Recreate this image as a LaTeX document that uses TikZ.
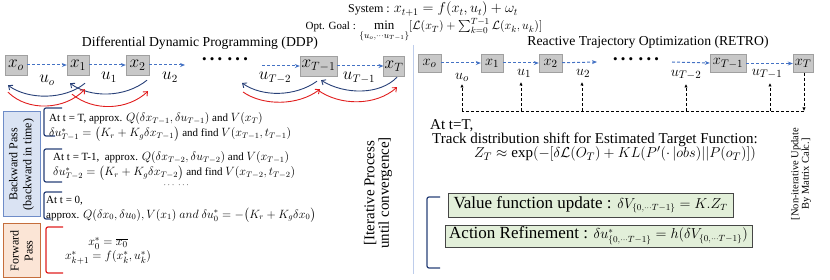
\documentclass[tikz,border=0pt]{standalone}
\usepackage{amsmath}
\usepackage{fontspec}
\setmainfont{Liberation Serif}
\usetikzlibrary{arrows.meta}
\definecolor{dblue}{RGB}{68,114,196}
\definecolor{navy}{RGB}{40,64,120}
\definecolor{arcred}{RGB}{225,30,30}
\definecolor{sgray}{RGB}{200,200,200}
\definecolor{sgrayd}{RGB}{160,160,160}
\definecolor{bpfill}{RGB}{218,227,243}
\definecolor{bpdraw}{RGB}{110,140,200}
\definecolor{fpfill}{RGB}{251,229,214}
\definecolor{fpdraw}{RGB}{197,110,60}
\definecolor{gfill}{RGB}{226,239,217}
\definecolor{gdraw}{RGB}{70,70,70}
\definecolor{divider}{RGB}{190,205,235}
\newcommand{\mathbody}[1]{{\fontsize{12}{15}\selectfont$#1$}}
\newcommand{\mathhead}[1]{{\fontsize{14}{14}\selectfont$#1$}}
\newcommand{\mathgoal}[1]{{\fontsize{13}{13}\selectfont$#1$}}
\newcommand{\mathgreen}[1]{{\fontsize{13.5}{14}\selectfont$#1$}}
\begin{document}
\begin{tikzpicture}[x=1pt,y=-1pt,
  state/.style={draw=sgrayd,fill=sgray,inner sep=1pt,minimum height=20pt,font=\fontsize{17}{17}\selectfont},
  rstate/.style={state,minimum height=18pt,font=\fontsize{15.5}{15.5}\selectfont},
  ulab/.style={inner sep=0pt,font=\fontsize{16}{16}\selectfont},
  rulab/.style={inner sep=0pt,font=\fontsize{15}{15}\selectfont},
  flow/.style={dblue,line width=1pt,dash pattern=on 3pt off 2pt,-{Stealth[length=5pt,width=4pt]}},
  backarc/.style={navy,line width=0.9pt,-{Straight Barb[length=3.5pt,width=6pt]}},
  fwdarc/.style={arcred,line width=0.9pt,-{Straight Barb[length=3.5pt,width=6pt]}},
  feed/.style={black,line width=0.8pt,dash pattern=on 3pt off 2pt},
  feedarrow/.style={feed,-{Latex[length=3.5pt,width=3.5pt]}},
  body/.style={inner sep=0pt,align=left,font=\fontsize{11}{15}\selectfont},
  rbody/.style={inner sep=0pt,font=\fontsize{15}{16}\selectfont},
  brack/.style={line width=1.2pt,rounded corners=2pt},
  greenbox/.style={draw=gdraw,fill=gfill,line width=0.8pt,inner sep=2pt,font=\fontsize{17}{17}\selectfont},
  title/.style={inner sep=0pt,font=\fontsize{13.7}{16}\selectfont},
  passbox/.style={rotate=90,align=center,inner sep=1pt,line width=1pt,minimum height=37pt,font=\fontsize{12}{14}\selectfont}
]
\useasboundingbox (0,0) rectangle (830,280);

% ---------- header ----------
\node[inner sep=0pt,font=\fontsize{12}{14}\selectfont,anchor=base] (sys) at (433,13) {System : \mathhead{x_{t+1} = f(x_t, u_t) + \omega_t}};
\node[inner sep=0pt,font=\fontsize{11}{13}\selectfont,anchor=base] (goal) at (424,30) {Opt. Goal : \mathgoal{\min\limits_{\{u_o,\cdots u_{T-1}\}} [\mathcal{L}(x_T) + \textstyle\sum_{k=0}^{T-1} \mathcal{L}(x_k,u_k)]}};
\node[title,anchor=base] (ddp) at (200,47) {Differential Dynamic Programming (DDP)};
\node[title,anchor=base] (retro) at (648,46) {Reactive Trajectory Optimization (RETRO)};

% divider
\draw[divider,line width=1pt] (413,45) -- (413,274);

% ---------- DDP chain ----------
\node[state,minimum width=22pt] (xo) at (16,65) {$x_o$};
\node[state,minimum width=22pt] (x1) at (78,65) {$x_1$};
\node[state,minimum width=23pt] (x2) at (137.5,65) {$x_2$};
\node[state,minimum width=37pt] (xTm) at (318.5,66) {$x_{T-1}$};
\node[state,minimum width=20pt] (xT) at (394,66) {$x_T$};
\coordinate (lend) at (185,65);
\coordinate (lstart) at (262,66);
\node[inner sep=0pt,font=\fontsize{13}{13}\selectfont] (ldots) at (225,61) {• • •\, • • •};
\draw[flow] (xo) -- (x1);
\draw[flow] (x1) -- (x2);
\draw[flow] (x2) -- (lend);
\draw[flow] (lstart) -- (xTm);
\draw[flow] (xTm) -- (xT);

\node[ulab] (lu0) at (47,80) {$u_o$};
\node[ulab] (lu1) at (109,77) {$u_1$};
\node[ulab] (lu2) at (170,77) {$u_2$};
\node[ulab] (luTm2) at (275,78) {$u_{T-2}$};
\node[ulab] (luTm1) at (359,78) {$u_{T-1}$};

% arcs near start
\draw[backarc] ([shift={(7,8)}]x1.south) .. controls (65,100) and (28,100) .. ([shift={(-8,10)}]xo.south);
\draw[backarc] ([shift={(9.5,5)}]x2.south) .. controls (125,98) and (90,98) .. ([shift={(-8,8)}]x1.south);
\draw[fwdarc] ([shift={(-8,17)}]xo.south) .. controls (28,112) and (65,110) .. ([shift={(7,14)}]x1.south);
\draw[fwdarc] ([shift={(-6,19)}]x1.south) .. controls (94,112) and (128,110) .. ([shift={(10.5,16)}]x2.south);
% arcs near end
\coordinate (bl) at (242,83);
\coordinate (rl) at (243,92);
\draw[backarc] ([shift={(3,1)}]xT.south) .. controls (380,95) and (345,95) .. ([shift={(2.5,4)}]xTm.south);
\draw[backarc] ([shift={(-1.5,5)}]xTm.south) .. controls (295,97) and (262,97) .. (bl);
\draw[fwdarc] (rl) .. controls (263,106) and (298,106) .. ([shift={(1.5,13)}]xTm.south);
\draw[fwdarc] ([shift={(-0.5,14)}]xTm.south) .. controls (340,106) and (376,106) .. ([shift={(3,11)}]xT.south);

% ---------- DDP passes ----------
\node[passbox,draw=bpdraw,fill=bpfill,minimum width=105pt] (bp) at (21.5,164.5) {Backward Pass\\(backward in time)};
\node[passbox,draw=fpdraw,fill=fpfill,minimum width=54pt] (fp) at (21.5,251) {Forward\\Pass};

\draw[brack,navy] (62,108) -- (44,108) -- (44,136) -- (55,136);
\draw[brack,navy] (62,149) -- (44,149) -- (44,182) -- (62,182);
\draw[brack,navy] (62,192) -- (44,192) -- (44,219) -- (51,219);
\draw[brack,arcred] (63,227) -- (46,227) -- (46,273) -- (63,273);

\node[body,anchor=west] (b1) at (49,127) {At t = T, approx. \mathbody{Q(\delta x_{T-1}, \delta u_{T-1})} and \mathbody{V(x_T)}\\\mathbody{\delta u^*_{T-1} = \big(K_r + K_g \delta x_{T-1}\big)} and find \mathbody{V(x_{T-1}, t_{T-1})}};
\node[body,anchor=west] (b2) at (53,166) {At t = T-1,\ \ approx. \mathbody{Q(\delta x_{T-2}, \delta u_{T-2})} and \mathbody{V(x_{T-1})}\\\mathbody{\delta u^*_{T-2} = \big(K_r + K_g \delta x_{T-2}\big)} and find \mathbody{V(x_{T-2}, t_{T-2})}};
\node[inner sep=0pt,font=\fontsize{9}{9}\selectfont] (bdots) at (177,185) {$\cdots\ \cdots$};
\node[body,anchor=west] (b3) at (46,209) {At t = 0,\\approx. \mathbody{Q(\delta x_0, \delta u_0), V(x_1)\ and\ \delta u^*_0 = -\big(K_r + K_g \delta x_0\big)}};
\node[body,align=center,font=\fontsize{12.5}{14}\selectfont] (f1) at (108,251) {$x^*_0 = \overline{x_0}$\\$x^*_{k+1} = f(x^*_k, u^*_k)$};

\node[inner sep=0pt,rotate=90,align=center,font=\fontsize{15}{14.5}\selectfont] (iter) at (378,193) {[Iterative Process\\until convergence]};

% ---------- RETRO chain ----------
\node[rstate,minimum width=23pt] (ro) at (429.5,63) {$x_o$};
\node[rstate,minimum width=22pt] (r1) at (492,63) {$x_1$};
\node[rstate,minimum width=23pt] (r2) at (550.5,63) {$x_2$};
\node[rstate,minimum width=36pt] (rTm) at (728,63.5) {$x_{T-1}$};
\node[rstate,minimum width=20pt] (rT) at (803,63.5) {$x_T$};
\coordinate (rend) at (597,62);
\coordinate (rstart) at (672,62);
\node[inner sep=0pt,font=\fontsize{13}{13}\selectfont] (rdots) at (636,61) {• • •\, • • •};
\draw[flow] (ro) -- (r1);
\draw[flow] (r1) -- (r2);
\draw[flow] (r2) -- (rend);
\draw[flow] (rstart) -- (rTm);
\draw[flow] (rTm) -- (rT);

\node[rulab] (ru0) at (462,77) {$u_o$};
\node[rulab] (ru1) at (524,73) {$u_1$};
\node[rulab] (ru2) at (583,73) {$u_2$};
\node[rulab] (ruTm2) at (686,75) {$u_{T-2}$};
\node[rulab] (ruTm1) at (767,74) {$u_{T-1}$};

\coordinate (bus0) at (462,111);
\coordinate (bus1) at (521,111);
\coordinate (bus2) at (582,111);
\coordinate (bus3) at (686,111);
\coordinate (bus4) at (770,111);
\coordinate (busT) at (804,111);
\coordinate (tip0) at (462,84);
\coordinate (tip1) at (521,82);
\coordinate (tip2) at (582,82);
\coordinate (tip3) at (686,84);
\coordinate (tip4) at (770,83);
\draw[feedarrow] (rT.south -| busT) -- (busT);
\draw[feed] (busT) -- (bus0);
\draw[feedarrow] (bus0) -- (tip0);
\draw[feedarrow] (bus1) -- (tip1);
\draw[feedarrow] (bus2) -- (tip2);
\draw[feedarrow] (bus3) -- (tip3);
\draw[feedarrow] (bus4) -- (tip4);

% ---------- RETRO text ----------
\node[rbody,anchor=base west] (att) at (430,130) {At t=T,};
\node[rbody,anchor=base west] (track) at (432,144) {Track distribution shift for Estimated Target Function:};
\node[rbody,anchor=base] (zt) at (615,158) {$Z_T \approx \exp(-[\delta\mathcal{L}(O_T) + KL(P'(\cdot\,|obs)||P(o_T)])$};

\draw[brack,navy] (440,197) -- (427,197) -- (427,268) -- (440,268);
\node[greenbox,minimum width=285pt,minimum height=24pt] (vf) at (590.5,205) {Value function update : \mathgreen{\delta V_{\{0,\cdots T-1\}} = K.Z_T}};
\node[greenbox,minimum width=307pt,minimum height=22pt] (ar) at (598.5,236) {Action Refinement : \mathgreen{\delta u^*_{\{0,\cdots T-1\}} = h(\delta V_{\{0,\cdots T-1\}})}};

\node[inner sep=0pt,rotate=90,align=center,font=\fontsize{10.5}{10.5}\selectfont] (noniter) at (801,174) {[Non-iterative Update\\By Matrix Calc.]};
\end{tikzpicture}
\end{document}
